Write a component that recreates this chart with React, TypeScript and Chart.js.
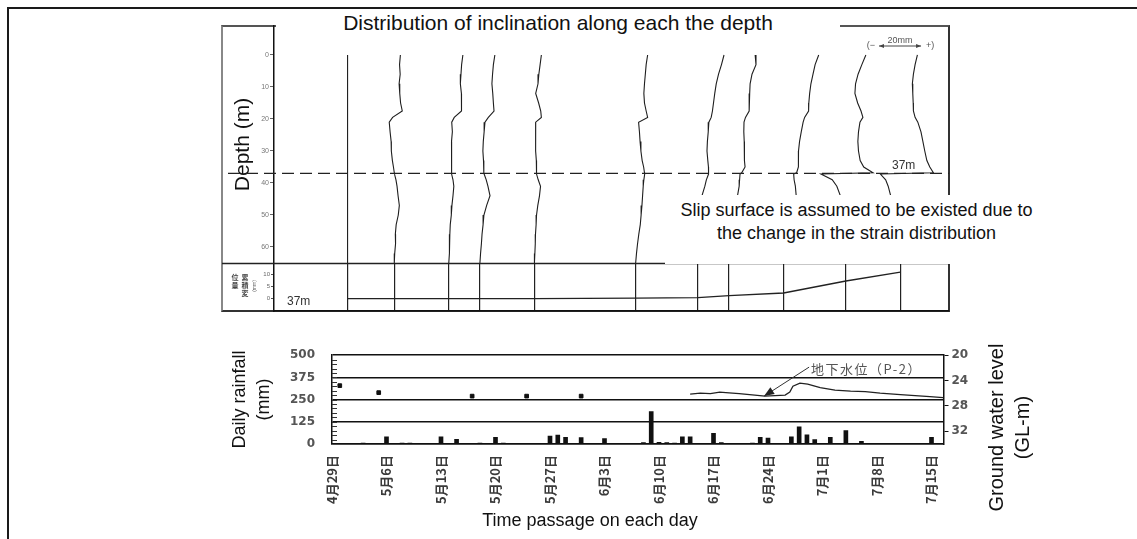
import React, { useEffect, useRef } from 'react';
import { Chart, registerables } from 'chart.js';

Chart.register(...registerables);

const SANS = "'Liberation Sans', Arial, sans-serif";
const CJK = "'Noto Sans CJK JP', sans-serif";
const TICK_FONT = "'DejaVu Sans', sans-serif";

// ---- time axis (days counted from 4月29日) ----
const weekTickDays = [0, 7, 14, 21, 28, 35, 42, 49, 56, 63, 70, 77];
const weekTickLabels = ['4月29日', '5月6日', '5月13日', '5月20日', '5月27日', '6月3日', '6月10日', '6月17日', '6月24日', '7月1日', '7月8日', '7月15日'];

// ---- daily rainfall (mm) ----
const rainDays = [4, 7, 9, 10, 14, 16, 19, 21, 22, 28, 29, 30, 32, 35, 40, 41, 42, 43, 44, 45, 46, 49, 50, 54, 55, 56, 59, 60, 61, 62, 64, 66, 68, 77];
const rainMm = [5, 40, 5, 5, 40, 26, 5, 38, 5, 45, 50, 37, 36, 30, 8, 182, 10, 8, 5, 41, 40, 60, 8, 5, 38, 34, 40, 97, 51, 25, 38, 75, 15, 37];

// ---- ground water level, GL-m (P-2) ----
const gwManualDays = [1, 6, 18, 25, 32];
const gwManualLevel = [24.8, 25.9, 26.45, 26.45, 26.45];
const gwDays = [46.0, 47.3, 48.6, 49.8, 51.0, 52.3, 54.3, 55.6, 56.9, 58.2, 58.8, 59.2, 60.1, 61.1, 62.7, 64.6, 66.6, 68.5, 70.4, 73.0, 74.9, 76.8, 78.5];
const gwLevel = [26.13, 25.98, 26.05, 25.82, 25.95, 26.06, 26.29, 26.45, 26.37, 26.29, 25.82, 24.88, 24.4, 24.56, 25.11, 25.5, 25.66, 25.74, 25.98, 26.21, 26.37, 26.53, 26.69];

// ---- inclinometer surveys ----
const surveyDays = [2, 8, 15, 19, 26, 39, 47, 51, 58, 66, 73];
const SLIP_DEPTH = 37;
// cumulative displacement at the 37 m slip surface (mm)
const slipDisp = [0, 0, 0, 0, 0, 0.2, 0.4, 1.25, 2.3, 7.3, 11];

// displacement profiles (mm) read at these depths (m)
const profileDepths = [0, 3, 6, 9, 12, 15, 17.5, 19.5, 21, 24, 27, 30, 33, 35, 36.8, 37.2, 39, 41, 44, 47, 50, 53, 56, 59, 62, 65];
const prof1Mm = [0, 0, 0, 0, 0, 0, 0, 0, 0, 0, 0, 0, 0, 0, 0, 0, 0, 0, 0, 0, 0, 0, 0, 0, 0, 0];
const prof2Mm = [2.9, 2.5, 2.8, 2.3, 2.6, 3.0, 3.8, -0.8, -2.4, -2.0, -1.5, -1.4, -0.9, -0.4, 0, 0.1, 0.8, 1.3, 1.8, 2.4, 1.9, 0.9, 0.5, 0.6, 0.2, 0];
const prof3Mm = [6.7, 6.1, 5.8, 5.5, 6.0, 5.9, 6.2, 2.6, 1.4, 1.7, 1.3, 1.5, 1.1, 1.3, 1.4, 1.4, 2.0, 2.4, 2.0, 1.5, 1.2, 0.7, 0.5, 0.4, 0.2, 0];
const prof4Mm = [7.1, 6.4, 6.0, 5.7, 6.1, 6.4, 6.7, 4.0, 2.4, 2.0, 1.6, 1.4, 1.7, 1.8, 1.9, 2.0, 3.0, 3.8, 4.8, 3.2, 1.9, 1.5, 1.0, 0.7, 0.3, 0];
const prof5Mm = [3.3, 2.7, 2.1, 1.7, 0.6, 2.0, 3.0, 3.3, 0.6, 0.7, 0.4, 0.6, 0.9, 1.0, 1.0, 1.0, 1.8, 2.9, 2.4, 1.6, 1.0, 0.8, 0.5, 0.4, 0.2, 0];
const prof6Mm = [5.7, 5.0, 4.6, 4.2, 3.9, 4.2, 5.0, 5.7, 1.4, 1.8, 2.1, 2.5, 3.1, 3.8, 4.2, 4.3, 3.9, 3.6, 3.3, 3.0, 2.6, 2.2, 1.5, 0.9, 0.4, 0];
const prof7Mm = [12.4, 11.2, 9.8, 8.7, 8.0, 7.4, 6.9, 6.3, 5.2, 4.9, 4.5, 4.3, 4.7, 5.0, 5.2, 4.9, 4.0, 3.3, 1.9, 1.5, 1.1, 0.8, 0.6, 0.4, 0.2, 0];
const prof8Mm = [12.4, 12.8, 10.9, 10.0, 9.8, 9.6, 9.5, 7.8, 7.1, 7.0, 7.2, 7.1, 7.5, 7.6, 6.0, 5.2, 5.0, 4.8, 4.0, 3.3, 2.6, 1.9, 1.3, 0.8, 0.3, 0];
const prof9Mm = [16.7, 15.0, 14.0, 13.0, 12.4, 12.0, 11.9, 10.0, 9.3, 8.4, 7.6, 7.1, 7.1, 7.0, 6.2, 4.8, 5.0, 5.6, 6.0, 4.8, 3.3, 2.3, 1.5, 0.9, 0.4, 0];
const prof10Mm = [9.5, 7.6, 5.8, 4.6, 4.3, 5.6, 7.2, 8.1, 6.7, 6.0, 5.7, 6.0, 6.8, 8.5, 12.9, -11.9, -6.5, -4.3, -2.6, -2.0, -1.6, -1.3, -1.0, -0.6, -0.3, 0];
const prof11Mm = [8.1, 7.0, 6.2, 5.7, 5.9, 6.1, 6.2, 7.0, 8.3, 9.8, 10.7, 11.6, 12.6, 14.0, 15.7, -9.5, -7.0, -5.8, -4.6, -3.6, -2.8, -2.2, -1.5, -0.9, -0.4, 0];

const depthTicks = [0, 10, 20, 30, 40, 50, 60];
const slipTicks = [0, 5, 10];
const rainTicks = [0, 125, 250, 375, 500];
const gwTicks = [20, 24, 28, 32];

// horizontal scale of the profiles: days of the time axis spanned by one mm of displacement
const DAYS_PER_MM = 0.27;
const SCALE_BAR_MM = 20;

const profiles = [prof1Mm, prof2Mm, prof3Mm, prof4Mm, prof5Mm, prof6Mm, prof7Mm, prof8Mm, prof9Mm, prof10Mm, prof11Mm];

const setTicks = (values: number[]) => (s: any) => {
  s.ticks = values.map((v) => ({ value: v }));
};

function arrowHead(ctx: CanvasRenderingContext2D, x: number, y: number, dx: number, dy: number, len: number, half: number) {
  const d = Math.hypot(dx, dy) || 1;
  const ux = dx / d, uy = dy / d;
  ctx.beginPath();
  ctx.moveTo(x, y);
  ctx.lineTo(x - ux * len - uy * half, y - uy * len + ux * half);
  ctx.lineTo(x - ux * len + uy * half, y - uy * len - ux * half);
  ctx.closePath();
  ctx.fill();
}

// dashed slip surface, its label and the displacement scale bar
const profileDecor = {
  id: 'profileDecor',
  afterDatasetsDraw(chart: any) {
    const { ctx, chartArea, scales } = chart;
    const x = scales.x, y = scales.y;
    const yy = y.getPixelForValue(SLIP_DEPTH);
    ctx.save();
    ctx.strokeStyle = '#222';
    ctx.lineWidth = 1.3;
    ctx.setLineDash([12, 6]);
    ctx.beginPath();
    ctx.moveTo(28, yy);
    ctx.lineTo(chartArea.right, yy);
    ctx.stroke();
    ctx.setLineDash([]);

    ctx.fillStyle = '#333';
    ctx.font = `12px ${SANS}`;
    ctx.textAlign = 'left';
    ctx.textBaseline = 'alphabetic';
    ctx.fillText(`${SLIP_DEPTH}m`, 692, yy - 4);

    // scale bar (−  ←20mm→  +)
    const len = x.getPixelForValue(SCALE_BAR_MM * DAYS_PER_MM) - x.getPixelForValue(0);
    const bx = 679, by = 26;
    ctx.strokeStyle = '#444';
    ctx.fillStyle = '#444';
    ctx.lineWidth = 1;
    ctx.beginPath();
    ctx.moveTo(bx, by);
    ctx.lineTo(bx + len, by);
    ctx.stroke();
    arrowHead(ctx, bx, by, -1, 0, 5, 2);
    arrowHead(ctx, bx + len, by, 1, 0, 5, 2);
    ctx.font = `9px ${SANS}`;
    ctx.fillStyle = '#555';
    ctx.textAlign = 'center';
    ctx.fillText(`${SCALE_BAR_MM}mm`, bx + len / 2, by - 3);
    ctx.textAlign = 'right';
    ctx.fillText('(−', bx - 4, by + 2);
    ctx.textAlign = 'left';
    ctx.fillText('+)', bx + len + 5, by + 2);
    ctx.restore();
  },
};

// strip: top rule, label of the tracked depth and the vertical axis caption
const stripDecor = {
  id: 'stripDecor',
  afterDraw(chart: any) {
    const { ctx, chartArea } = chart;
    ctx.save();
    ctx.strokeStyle = '#222';
    ctx.lineWidth = 1.5;
    ctx.beginPath();
    ctx.moveTo(22, chartArea.top);
    ctx.lineTo(chartArea.right, chartArea.top);
    ctx.stroke();

    ctx.fillStyle = '#333';
    ctx.font = `12px ${SANS}`;
    ctx.textBaseline = 'middle';
    ctx.textAlign = 'left';
    ctx.fillText(`${SLIP_DEPTH}m`, 87, 47);

    ctx.font = `bold 7px ${CJK}`;
    ctx.fillStyle = '#444';
    ctx.textAlign = 'center';
    const right = ['累', '積', '変'];
    const left = ['位', '量'];
    right.forEach((c, i) => ctx.fillText(c, 45, 22 + i * 8));
    left.forEach((c, i) => ctx.fillText(c, 35, 22 + i * 8));
    ctx.font = `5px ${SANS}`;
    ctx.fillStyle = '#666';
    ctx.translate(55, 31);
    ctx.rotate(-Math.PI / 2);
    ctx.fillText('(mm)', 0, 0);
    ctx.restore();
  },
};

// minor ticks, captions and the well annotation
const rainDecor = {
  id: 'rainDecor',
  afterDatasetsDraw(chart: any) {
    const { ctx, chartArea, scales } = chart;
    const yr = scales.yRain, yg = scales.yGw, x = scales.x;
    ctx.save();
    ctx.strokeStyle = '#333';
    ctx.lineWidth = 1;
    for (let v = 25; v < 500; v += 25) {
      const py = Math.round(yr.getPixelForValue(v)) + 0.5;
      ctx.beginPath();
      ctx.moveTo(chartArea.left, py);
      ctx.lineTo(chartArea.left + 5, py);
      ctx.stroke();
    }

    // arrow pointing at the P-2 record
    const tx = x.getPixelForValue(55.5);
    const ty = yg.getPixelForValue(26.45);
    ctx.strokeStyle = '#333';
    ctx.fillStyle = '#222';
    ctx.lineWidth = 1;
    ctx.beginPath();
    ctx.moveTo(tx + 45, ty - 29);
    ctx.lineTo(tx, ty);
    ctx.stroke();
    arrowHead(ctx, tx, ty, -45, 29, 10, 4);
    ctx.font = `13px ${CJK}`;
    (ctx as any).letterSpacing = '1.5px';
    ctx.fillStyle = '#555';
    ctx.textAlign = 'left';
    ctx.textBaseline = 'middle';
    ctx.fillText('地下水位（P-2）', tx + 47, ty - 27);
    (ctx as any).letterSpacing = '0px';

    const mid = (chartArea.top + chartArea.bottom) / 2;
    ctx.fillStyle = '#111';
    ctx.textAlign = 'center';
    const caption = (lines: string[], cx: number, cy: number, size: number, gap: number) => {
      ctx.font = `${size}px ${SANS}`;
      lines.forEach((t, i) => {
        ctx.save();
        ctx.translate(cx + i * gap, cy);
        ctx.rotate(-Math.PI / 2);
        ctx.fillText(t, 0, 0);
        ctx.restore();
      });
    };
    caption(['Daily rainfall', '(mm)'], 40, mid, 18, 24);
    caption(['Ground water level', '(GL-m)'], chartArea.right + 54, mid + 28, 20, 26);

    // time axis caption
    ctx.font = `18px ${SANS}`;
    ctx.textBaseline = 'middle';
    ctx.fillText('Time passage on each day', 390, chartArea.bottom + 77);
    ctx.restore();
  },
};

function profileConfig(): any {
  return {
    type: 'scatter',
    data: {
      datasets: profiles.map((mm, i) => ({
        data: profileDepths.map((d, j) => ({ x: surveyDays[i] + mm[j] * DAYS_PER_MM, y: d })),
        showLine: true,
        borderColor: '#1e1e1e',
        borderWidth: 1.1,
        pointRadius: 0,
        tension: 0,
      })),
    },
    options: {
      animation: false,
      responsive: false,
      devicePixelRatio: 1,
      layout: { padding: { left: 0, right: 11, top: 6, bottom: 7 } },
      plugins: { legend: { display: false }, tooltip: { enabled: false } },
      scales: {
        x: { type: 'linear', min: -7.449, max: 79.245, display: false },
        y: {
          type: 'linear',
          reverse: true,
          min: -9.06,
          max: 65,
          afterBuildTicks: setTicks(depthTicks),
          afterFit: (s: any) => { s.width = 74; },
          ticks: { font: { size: 7, family: SANS }, color: '#777', padding: 1 },
          grid: { drawOnChartArea: false, tickLength: 4, color: '#666' },
          border: { color: '#111', width: 1.5 },
          title: { display: true, text: 'Depth (m)', color: '#111', font: { size: 21, family: SANS }, padding: { top: 31, bottom: 0 } },
        },
      },
    },
    plugins: [profileDecor],
  };
}

function stripConfig(): any {
  return {
    type: 'line',
    data: {
      datasets: [{
        data: surveyDays.map((d, i) => ({ x: d, y: slipDisp[i] })),
        borderColor: '#222',
        borderWidth: 1.3,
        pointRadius: 0,
        tension: 0,
      }],
    },
    options: {
      animation: false,
      responsive: false,
      devicePixelRatio: 1,
      layout: { padding: { left: 0, right: 11, top: 8.5, bottom: 9 } },
      plugins: { legend: { display: false }, tooltip: { enabled: false } },
      scales: {
        x: {
          type: 'linear', min: -7.449, max: 79.245,
          afterBuildTicks: setTicks(surveyDays),
          afterFit: (s: any) => { s.height = 0; },
          ticks: { display: false },
          grid: { drawOnChartArea: true, drawTicks: false, color: '#222', lineWidth: 1.2 },
          border: { color: '#111', width: 1.5 },
        },
        y: {
          type: 'linear', min: -5.2, max: 14.6,
          afterBuildTicks: setTicks(slipTicks),
          afterFit: (s: any) => { s.width = 74; },
          ticks: { font: { size: 6, family: SANS }, color: '#666', padding: 1 },
          grid: { drawOnChartArea: false, tickLength: 3, color: '#555' },
          border: { color: '#111', width: 1.5 },
        },
      },
    },
    plugins: [stripDecor],
  };
}

function rainConfig(): any {
  return {
    type: 'bar',
    data: {
      datasets: [
        {
          type: 'line',
          data: gwDays.map((d, i) => ({ x: d, y: gwLevel[i] })),
          yAxisID: 'yGw',
          borderColor: '#222',
          borderWidth: 1.3,
          pointRadius: 0,
          tension: 0,
        },
        {
          type: 'scatter',
          data: gwManualDays.map((d, i) => ({ x: d, y: gwManualLevel[i] })),
          yAxisID: 'yGw',
          pointStyle: 'rect',
          pointRadius: 2.6,
          backgroundColor: '#111',
          borderColor: '#111',
        },
        {
          type: 'bar',
          data: rainDays.map((d, i) => ({ x: d, y: rainMm[i] })),
          yAxisID: 'yRain',
          backgroundColor: '#111',
          barThickness: 4,
          grouped: false,
        },
      ],
    },
    options: {
      animation: false,
      responsive: false,
      devicePixelRatio: 1,
      layout: { padding: { left: 0, right: 76.5, top: 0, bottom: 0 } },
      plugins: { legend: { display: false }, tooltip: { enabled: false } },
      scales: {
        x: {
          type: 'linear', min: 0, max: 78.54, offset: false,
          afterBuildTicks: setTicks(weekTickDays),
          afterFit: (s: any) => { s.height = 95; },
          ticks: {
            autoSkip: false, minRotation: 90, maxRotation: 90, padding: 11,
            font: { size: 13, weight: 'bold', family: CJK }, color: '#3a3a3a',
            callback: (_v: any, i: number) => weekTickLabels[i],
          },
          grid: { drawOnChartArea: false, drawTicks: false, offset: false },
          border: { color: '#111', width: 1.5 },
        },
        yRain: {
          type: 'linear', position: 'left', min: 0, max: 500,
          afterBuildTicks: setTicks(rainTicks),
          afterFit: (s: any) => { s.width = 132; },
          ticks: { font: { size: 12, weight: 'bold', family: TICK_FONT }, color: '#555', padding: 17 },
          grid: { drawTicks: false, color: '#111', lineWidth: 1.5 },
          border: { color: '#111', width: 1.5 },
        },
        yGw: {
          type: 'linear', position: 'right', min: 20, max: 34, reverse: true,
          afterBuildTicks: setTicks(gwTicks),
          afterFit: (s: any) => { s.width = 40; },
          ticks: { font: { size: 12, weight: 'bold', family: TICK_FONT }, color: '#555', padding: 3 },
          grid: { drawOnChartArea: false, drawTicks: true, tickLength: 5, color: '#111' },
          border: { color: '#111', width: 1.5 },
        },
      },
    },
    plugins: [rainDecor],
  };
}

function ChartCanvas({ make, left, top, width, height }: { make: () => any; left: number; top: number; width: number; height: number }) {
  const ref = useRef<HTMLCanvasElement | null>(null);
  useEffect(() => {
    if (!ref.current) return;
    const chart = new Chart(ref.current, make());
    return () => chart.destroy();
  }, []);
  return (
    <canvas
      ref={ref}
      width={width}
      height={height}
      style={{ position: 'absolute', left, top, width, height }}
    />
  );
}

export default function App() {
  return (
    <div style={{ position: 'absolute', left: 0, top: 0, width: 1137, height: 539, overflow: 'hidden', background: '#fff', fontFamily: SANS }}>
      {/* outer frame */}
      <div style={{ position: 'absolute', left: 7, top: 7, width: 1130, height: 532, borderLeft: '2px solid #1a1a1a', borderTop: '2px solid #1a1a1a', boxSizing: 'border-box' }} />
      {/* inclinometer panel frame */}
      <div style={{ position: 'absolute', left: 221, top: 25, width: 729, height: 287, borderStyle: 'solid', borderWidth: 2, borderColor: '#555 #333 #333 #888', boxSizing: 'border-box' }} />

      <ChartCanvas make={profileConfig} left={200} top={20} width={760} height={250} />
      <ChartCanvas make={stripConfig} left={200} top={255} width={760} height={65} />
      <ChartCanvas make={rainConfig} left={200} top={331} width={860} height={208} />

      <div style={{ position: 'absolute', left: 276, top: 11, width: 564, height: 24, lineHeight: '24px', background: '#fff', textAlign: 'center', fontSize: 21, color: '#111', whiteSpace: 'nowrap' }}>
        Distribution of inclination along each the depth
      </div>
      <div style={{ position: 'absolute', left: 665, top: 195, width: 383, height: 69, paddingTop: 4, boxSizing: 'border-box', background: '#fff', textAlign: 'center', fontSize: 18, lineHeight: '23px', color: '#111', whiteSpace: 'nowrap' }}>
        Slip surface is assumed to be existed due to<br />the change in the strain distribution
      </div>
    </div>
  );
}
